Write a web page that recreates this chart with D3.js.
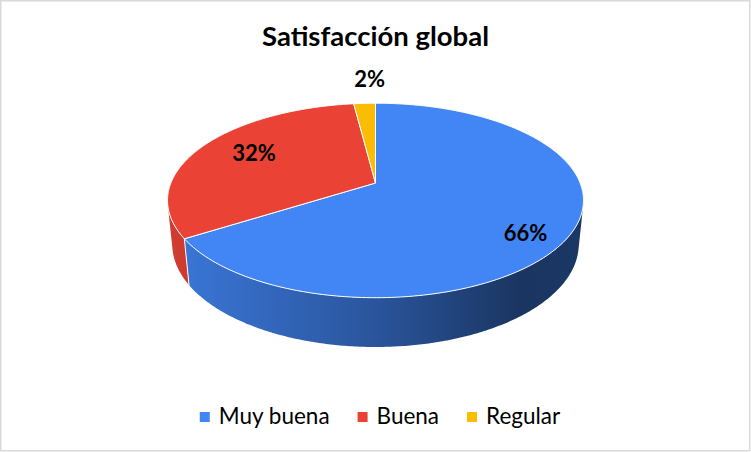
<!DOCTYPE html>
<html>
<head>
<meta charset="utf-8">
<script src="https://cdn.jsdelivr.net/npm/d3@7"></script>
<style>
  body { margin: 0; background: #fff; }
  svg { display: block; font-family: Lato, "Open Sans", sans-serif; }
</style>
</head>
<body>
<svg id="chart"></svg>
<script>
const categories = ["Muy buena", "Buena", "Regular"];
const values = [66, 32, 2]; // percent
const colors = ["#4285F4", "#EA4335", "#FBBC04"];
const chartTitle = "Satisfacción global";

const width = 751, height = 452;

const svg = d3.select("#chart")
    .attr("width", width)
    .attr("height", height);

// chart area border
svg.append("rect")
    .attr("x", 0.75).attr("y", 0.75)
    .attr("width", width - 2).attr("height", height - 2)
    .attr("fill", "#fff")
    .attr("stroke", "#d9d9d9")
    .attr("stroke-width", 1.5);

// title
svg.append("text")
    .attr("x", 375.5)
    .attr("y", 46)
    .attr("text-anchor", "middle")
    .style("font-size", "27.5px")
    .style("font-weight", "bold")
    .attr("fill", "#000")
    .text(chartTitle);

// 3D perspective projection for the pie (radius 1 in world units)
const cx = 375.5, cy = 183;
const k = 204.6;                 // px per unit at the pie centre
const D = 4.947;                 // camera distance
const tilt = Math.asin(0.46);
const thick = 0.243;             // pie thickness
const sinT = Math.sin(tilt), cosT = Math.cos(tilt);

function project(theta, r, h) {
    const x = r * Math.sin(theta);
    const z = -r * Math.cos(theta);
    const depth = z * cosT + h * sinT;
    const s = k * D / (D - depth);
    return [cx + x * s, cy + (z * sinT - h * cosT) * s];
}

function rim(a0, a1, h) {
    const n = Math.max(2, Math.ceil(Math.abs(a1 - a0) / 0.01));
    return d3.range(n + 1).map(i => project(a0 + (a1 - a0) * i / n, 1, h));
}

const pie = d3.pie().sort(null).value(d => d);
const arcs = pie(values);

// side walls visible where the outer normal faces the camera
const visStart = Math.acos(-1 / (D * cosT));
const visEnd = 2 * Math.PI - visStart;

const defs = svg.append("defs");
colors.forEach((c, i) => {
    const g = defs.append("linearGradient")
        .attr("id", "side" + i)
        .attr("gradientUnits", "userSpaceOnUse")
        .attr("x1", cx - k * 1.02).attr("x2", cx + k * 1.02)
        .attr("y1", 0).attr("y2", 0);
    [[0, 0.3], [0.5, 1.25], [0.85, 2.6], [1, 2.5]].forEach(([o, d]) => {
        g.append("stop").attr("offset", o).attr("stop-color", d3.color(c).darker(d));
    });
});

const line = d3.line();

const sides = svg.append("g");
arcs.forEach((a, i) => {
    const a0 = Math.max(a.startAngle, visStart);
    const a1 = Math.min(a.endAngle, visEnd);
    if (a0 >= a1) return;
    const pts = rim(a0, a1, 0).concat(rim(a1, a0, -thick));
    sides.append("path")
        .attr("d", line(pts) + "Z")
        .attr("fill", `url(#side${i})`);
});

// white edge between slices on the side wall
arcs.forEach(a => {
    const e = a.endAngle;
    if (e > visStart && e < visEnd) {
        sides.append("path")
            .attr("d", line([project(e, 1, 0), project(e, 1, -thick)]))
            .attr("stroke", "#fff")
            .attr("stroke-width", 1);
    }
});

// top faces
const tops = svg.append("g");
arcs.forEach((a, i) => {
    const pts = [project(0, 0, 0)].concat(rim(a.startAngle, a.endAngle, 0));
    tops.append("path")
        .attr("d", line(pts) + "Z")
        .attr("fill", colors[i])
        .attr("stroke", "#fff")
        .attr("stroke-width", 1)
        .attr("stroke-linejoin", "round");
});

// data labels
const labelPlace = [
    { r: 0.78, dx: 0, dy: 12 },
    { r: 0.70, dx: 1.5, dy: -3 },
    { r: 1.0, dx: 5, dy: -24 }
];
arcs.forEach((a, i) => {
    const mid = (a.startAngle + a.endAngle) / 2;
    const p = project(mid, labelPlace[i].r, 0);
    svg.append("text")
        .attr("x", p[0] + labelPlace[i].dx)
        .attr("y", p[1] + labelPlace[i].dy)
        .attr("dy", "0.35em")
        .attr("text-anchor", "middle")
        .style("font-size", "22px")
        .style("font-weight", "bold")
        .attr("fill", "#000")
        .text(values[i] + "%");
});

// legend, centred below the pie
const legend = svg.append("g");
const items = categories.map((c, i) => {
    const t = legend.append("text")
        .attr("y", 424)
        .style("font-size", "22.5px")
        .attr("fill", "#000")
        .text(c);
    return { t, w: t.node().getComputedTextLength(), i };
});
const sq = 10, gapIn = 9, gapOut = 28;
const total = d3.sum(items, d => sq + gapIn + d.w) + gapOut * (items.length - 1);
let lx = 380 - total / 2;
items.forEach(d => {
    legend.append("rect")
        .attr("x", lx).attr("y", 412)
        .attr("width", sq).attr("height", sq)
        .attr("fill", colors[d.i]);
    d.t.attr("x", lx + sq + gapIn);
    lx += sq + gapIn + d.w + gapOut;
});
</script>
</body>
</html>
